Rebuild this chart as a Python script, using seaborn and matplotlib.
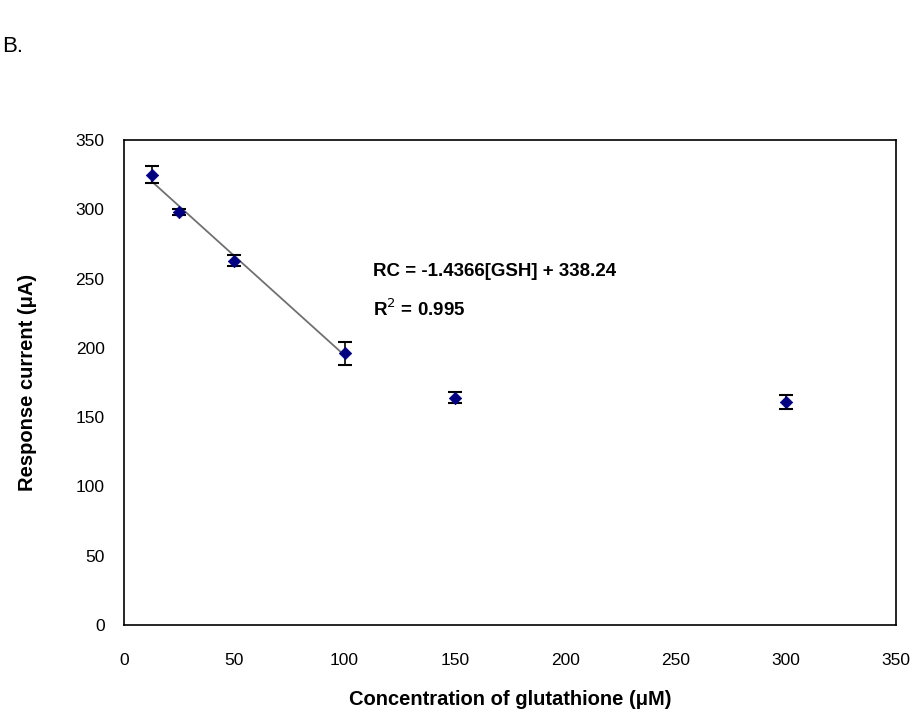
import matplotlib
matplotlib.use("Agg")
import matplotlib.pyplot as plt
import seaborn as sns
import numpy as np
import pandas as pd

conc = [12.5, 25, 50, 100, 150, 300]
current = [325, 298, 263, 196, 164, 161]
err = [6, 2, 4, 8, 4, 5]
slope = -1.4366
intercept = 338.24
fit_x = [12.5, 100]
xticks = [0, 50, 100, 150, 200, 250, 300, 350]
yticks = [0, 50, 100, 150, 200, 250, 300, 350]

sns.set_style("white")
plt.rcParams['font.family'] = ['Liberation Sans', 'DejaVu Sans']
plt.rcParams['text.color'] = 'black'
plt.rcParams['axes.labelcolor'] = 'black'
plt.rcParams['xtick.color'] = 'black'
plt.rcParams['ytick.color'] = 'black'

fig = plt.figure(figsize=(9.23, 7.22), dpi=100)
ax = fig.add_axes([0.1343, 0.1343, 0.8367, 0.6717])

df = pd.DataFrame({"conc": conc, "current": current})
fit_df = pd.DataFrame({"x": fit_x, "y": [slope * v + intercept for v in fit_x]})

sns.lineplot(data=fit_df, x="x", y="y", ax=ax, color="#707070", linewidth=1.3, zorder=2)
ax.errorbar(conc, current, yerr=err, fmt="none", ecolor="black", elinewidth=1.2,
            capsize=5, capthick=1.5, zorder=3)
sns.scatterplot(data=df, x="conc", y="current", ax=ax, marker="D", s=40,
                color="#000080", edgecolor="#000080", zorder=4)

ax.set_xlim(0, 350)
ax.set_ylim(0, 350)
ax.set_xticks(xticks)
ax.set_yticks(yticks)
ax.tick_params(direction="in", length=5, width=1, color="black", labelsize=12.5,
               labelcolor="black")
ax.tick_params(axis="x", pad=20)
ax.tick_params(axis="y", pad=14)
for s in ax.spines.values():
    s.set_color("black")
    s.set_linewidth(1.2)

ax.set_xlabel("Concentration of glutathione (μM)", fontsize=14.5, fontweight="bold",
              labelpad=16, color="black")
ax.set_ylabel("Response current (μA)", fontsize=14.5, fontweight="bold",
              labelpad=28, color="black")

ax.text(113, 252, "RC = -1.4366[GSH] + 338.24", fontsize=13.5, fontweight="bold")
ax.text(113, 223, "R$^2$ = 0.995", fontsize=13.5, fontweight="bold")

fig.text(0.002, 0.928, "B.", fontsize=16, color="black")

fig.savefig("out.png", dpi=100, facecolor="white")
